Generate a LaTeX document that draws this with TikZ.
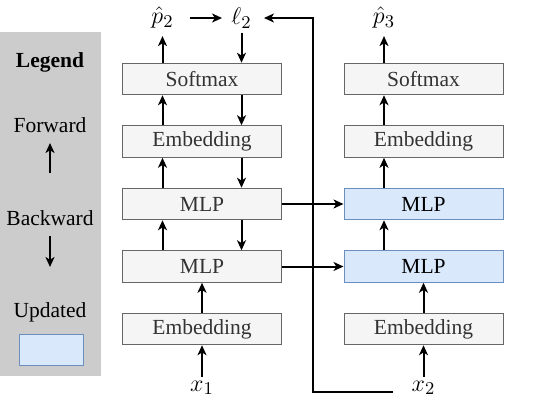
\documentclass[tikz,border=0pt]{standalone}
\usepackage{fontspec}
\usetikzlibrary{arrows.meta}
\setmainfont{Liberation Serif}
\definecolor{boxfill}{HTML}{F5F5F5}
\definecolor{boxline}{HTML}{666666}
\definecolor{boxtext}{HTML}{333333}
\definecolor{updfill}{HTML}{DAE8FC}
\definecolor{updline}{HTML}{6C8EBF}
\definecolor{legfill}{HTML}{CCCCCC}
\tikzset{
  layer/.style={draw=boxline, fill=boxfill, text=boxtext, line width=0.5pt,
    minimum width=79.5pt, minimum height=15.75pt, inner sep=0pt},
  updated/.style={layer, draw=updline, fill=updfill, text=black},
  lbl/.style={inner sep=2pt, font=\fontsize{12.5}{14}\selectfont},
  flow/.style={->, line width=1pt},
}
\begin{document}
\begin{tikzpicture}[>={Stealth[length=5pt,width=4.5pt,inset=1.4pt]}, x=0.5pt, y=-0.5pt,
    font=\fontsize{10.75}{13}\selectfont]
  \useasboundingbox (0,0) rectangle (550,411);
  \def\off{19.75pt}

  % Legende
  \fill[legfill] (0,32) rectangle (101,376);
  \node (legtitle) at (50,62) {\textbf{Legend}};
  \node (legfwd) at (50,125) {Forward};
  \coordinate (fwdA) at (50,173);
  \coordinate (fwdB) at (50,143);
  \draw[flow] (fwdA) -- (fwdB);
  \node (legbwd) at (50,218) {Backward};
  \coordinate (bwdA) at (50,236);
  \coordinate (bwdB) at (50,267);
  \draw[flow] (bwdA) -- (bwdB);
  \node (legupd) at (50,312) {Updated};
  \node[updated, minimum width=32pt] (legbox) at (51,350) {};

  % Linker stapel
  \node[layer] (softA) at (202,79) {Softmax};
  \node[layer] (embA2) at (202,141.5) {Embedding};
  \node[layer] (mlpA2) at (202,204) {MLP};
  \node[layer] (mlpA1) at (202,266.5) {MLP};
  \node[layer] (embA1) at (202,329) {Embedding};
  \node[lbl] (x1) at (202,388) {$x_1$};
  \node[lbl] (p2) at (162.5,18) {$\hat{p}_2$};
  \node[lbl] (l2) at (241.5,18) {$\ell_2$};

  % Rechter stapel
  \node[layer] (softB) at (423.5,79) {Softmax};
  \node[layer] (embB2) at (423.5,141.5) {Embedding};
  \node[updated] (mlpB2) at (423.5,204) {MLP};
  \node[updated] (mlpB1) at (423.5,266.5) {MLP};
  \node[layer] (embB1) at (423.5,329) {Embedding};
  \node[lbl] (x2) at (423.5,388) {$x_2$};
  \node[lbl] (p3) at (384,18) {$\hat{p}_3$};

  % Voorwaarts links
  \draw[flow] (x1) -- (embA1);
  \draw[flow] (embA1) -- (mlpA1);
  \draw[flow] ([xshift=-\off]mlpA1.north) -- ([xshift=-\off]mlpA2.south);
  \draw[flow] ([xshift=-\off]mlpA2.north) -- ([xshift=-\off]embA2.south);
  \draw[flow] ([xshift=-\off]embA2.north) -- ([xshift=-\off]softA.south);
  \draw[flow, shorten >=1.5pt] ([xshift=-\off]softA.north) -- (p2);

  % Achterwaarts links
  \draw[flow] (l2) -- ([xshift=\off]softA.north);
  \draw[flow] ([xshift=\off]softA.south) -- ([xshift=\off]embA2.north);
  \draw[flow] ([xshift=\off]embA2.south) -- ([xshift=\off]mlpA2.north);
  \draw[flow] ([xshift=\off]mlpA2.south) -- ([xshift=\off]mlpA1.north);

  % Voorwaarts rechts
  \draw[flow] (x2) -- (embB1);
  \draw[flow] (embB1) -- (mlpB1);
  \draw[flow] ([xshift=-\off]mlpB1.north) -- ([xshift=-\off]mlpB2.south);
  \draw[flow] ([xshift=-\off]mlpB2.north) -- ([xshift=-\off]embB2.south);
  \draw[flow] ([xshift=-\off]embB2.north) -- ([xshift=-\off]softB.south);
  \draw[flow, shorten >=1.5pt] ([xshift=-\off]softB.north) -- (p3);

  % Overdracht tussen stapels
  \draw[flow] (mlpA2) -- (mlpB2);
  \draw[flow] (mlpA1) -- (mlpB1);

  % Verlies
  \draw[flow, shorten <=6pt, shorten >=2.5pt] (p2) -- (l2);
  \coordinate (fbstart) at (393,392);
  \coordinate (fbturn) at (313,392);
  \draw[flow, shorten >=4pt] (fbstart) -- (fbturn) |- (l2);

\end{tikzpicture}
\end{document}
